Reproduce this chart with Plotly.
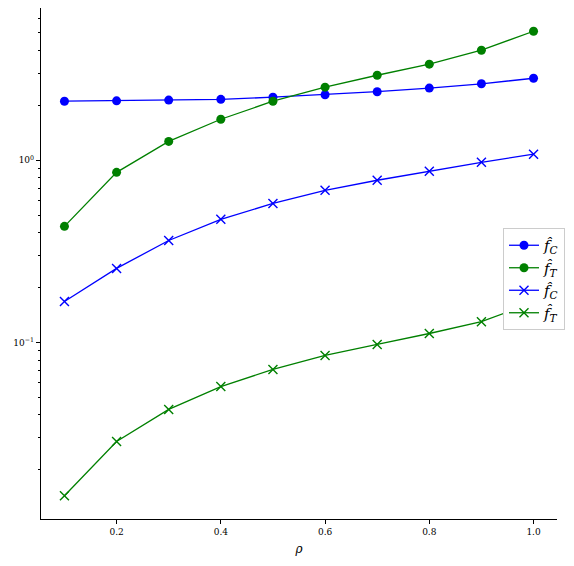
import plotly.graph_objects as go

rho = [0.1, 0.2, 0.3, 0.4, 0.5, 0.6, 0.7, 0.8, 0.9, 1.0]
fc_circle = [2.11, 2.12, 2.14, 2.16, 2.22, 2.29, 2.38, 2.49, 2.63, 2.82]
ft_circle = [0.434, 0.859, 1.27, 1.68, 2.11, 2.52, 2.93, 3.37, 4.02, 5.11]
fc_cross = [0.168, 0.255, 0.363, 0.474, 0.580, 0.684, 0.777, 0.870, 0.975, 1.08]
ft_cross = [0.0144, 0.0286, 0.0429, 0.0573, 0.0711, 0.0849, 0.0975, 0.112, 0.130, 0.166]

label_c = "<i>f̂</i><sub><i>C</i></sub>"
label_t = "<i>f̂</i><sub><i>T</i></sub>"

blue = "#0000ff"
green = "#008000"

fig = go.Figure()
fig.add_trace(go.Scatter(x=rho, y=fc_circle, mode="lines+markers", name=label_c,
                         line=dict(color=blue, width=1.3),
                         marker=dict(symbol="circle", size=9, color=blue)))
fig.add_trace(go.Scatter(x=rho, y=ft_circle, mode="lines+markers", name=label_t,
                         line=dict(color=green, width=1.3),
                         marker=dict(symbol="circle", size=9, color=green)))
fig.add_trace(go.Scatter(x=rho, y=fc_cross, mode="lines+markers", name=label_c,
                         line=dict(color=blue, width=1.3),
                         marker=dict(symbol="x-thin-open", size=9, color=blue,
                                     line=dict(color=blue, width=1.4))))
fig.add_trace(go.Scatter(x=rho, y=ft_cross, mode="lines+markers", name=label_t,
                         line=dict(color=green, width=1.3),
                         marker=dict(symbol="x-thin-open", size=9, color=green,
                                     line=dict(color=green, width=1.4))))

minor_vals = []
for base in [0.01, 0.1, 1.0]:
    for k in range(2, 10):
        minor_vals.append(base * k)

W, H = 574, 566
OFF = 8  # page body margin

fig.update_layout(
    width=W, height=H,
    margin=dict(l=41 - OFF, r=W + OFF - 557, t=8 - OFF, b=H + OFF - 519, autoexpand=False),
    paper_bgcolor="white", plot_bgcolor="white",
    font=dict(family="DejaVu Serif", size=9, color="black"),
    showlegend=True,
    legend=dict(x=(503 - OFF) / W, y=1 - (228 - OFF) / H, xref="container", yref="container",
                xanchor="left", yanchor="top",
                bgcolor="white", bordercolor="#cccccc", borderwidth=1,
                font=dict(size=15), tracegroupgap=0, itemwidth=30),
    xaxis=dict(range=[0.055, 1.045], showgrid=False, zeroline=False, automargin=False,
               showline=True, linecolor="black", linewidth=1.2, mirror=False,
               ticks="outside", ticklen=4, tickcolor="black",
               tickvals=[0.2, 0.4, 0.6, 0.8, 1.0],
               ticktext=["0.2", "0.4", "0.6", "0.8", "1.0"],
               title=dict(text="<i>ρ</i>", font=dict(size=12), standoff=8)),
    yaxis=dict(type="log", range=[-1.969, 0.836], showgrid=False, zeroline=False,
               automargin=False,
               showline=True, linecolor="black", linewidth=1.2, mirror=False,
               ticks="outside", ticklen=4, tickcolor="black",
               tickvals=[0.1, 1.0],
               ticktext=["10<sup>−1</sup>", "10<sup>0</sup>"],
               minor=dict(ticks="outside", ticklen=2, tickcolor="black",
                          tickvals=minor_vals, showgrid=False)),
)

fig.write_html("out.html")
